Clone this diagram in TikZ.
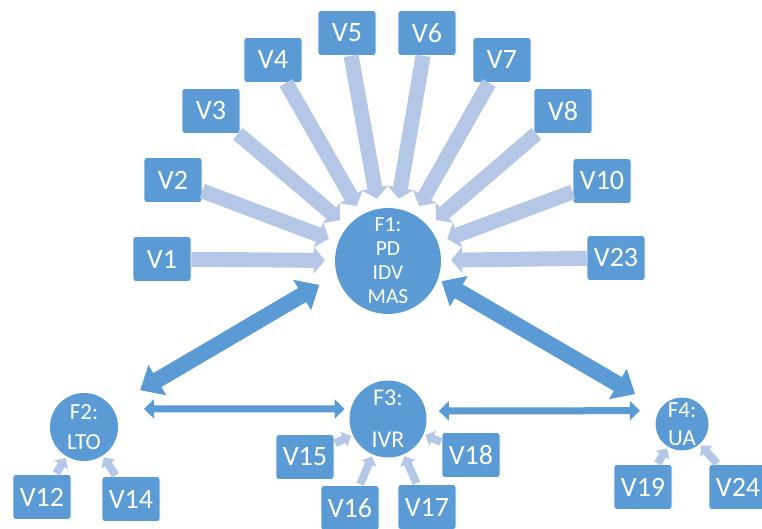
\documentclass[tikz,border=0pt]{standalone}
\usepackage{fontspec}
\setmainfont{Carlito}
\usetikzlibrary{arrows.meta}
\definecolor{boxblue}{HTML}{5B9BD5}
\definecolor{paleblue}{HTML}{B4C7E7}
\tikzset{
  vbox/.style={rectangle, rounded corners=3pt, fill=boxblue, draw=white, line width=0.6pt,
    minimum width=58pt, minimum height=45pt, inner sep=0pt, text=white,
    font=\fontsize{28}{30}\selectfont},
  fcircle/.style={circle, fill=boxblue, inner sep=0pt, text=white, align=center},
  feed/.style={paleblue, line width=15pt,
    -{Triangle[length=11pt,width=26pt]}, shorten >=10pt},
  smallfeed/.style={paleblue, line width=8pt,
    -{Triangle[length=8pt,width=16pt]}, shorten >=2pt, shorten <=1pt},
  bigrel/.style={boxblue, line width=16pt,
    {Triangle[length=20pt,width=34pt]}-{Triangle[length=20pt,width=34pt]}},
  thinrel/.style={boxblue, line width=7pt,
    {Triangle[length=10pt,width=19pt]}-{Triangle[length=10pt,width=19pt]}}
}
\begin{document}
\begin{tikzpicture}[x=1pt, y=-1pt]
\useasboundingbox (0,0) rectangle (762,529);
\clip (0,0) rectangle (762,529);

% factor circles
\node[fcircle, minimum size=106pt, font=\fontsize{21.5}{24}\selectfont] (F1) at (388,261) {F1:\\PD\\IDV\\MAS};
\node[fcircle, minimum size=68pt, font=\fontsize{23}{30}\selectfont] (F2) at (84,427) {F2:\\LTO};
\node[fcircle, minimum size=77pt, font=\fontsize{24}{42}\selectfont] (F3) at (388,419) {F3:\\IVR};
\node[fcircle, minimum size=53pt, font=\fontsize{23}{28}\selectfont] (F4) at (682,424) {F4:\\UA};

% variable boxes feeding F1
\node[vbox] (V1) at (162,259) {V1};
\node[vbox] (V2) at (173,180) {V2};
\node[vbox] (V3) at (211,111) {V3};
\node[vbox] (V4) at (273,60) {V4};
\node[vbox] (V5) at (347,33) {V5};
\node[vbox] (V6) at (427,33) {V6};
\node[vbox] (V7) at (502,60) {V7};
\node[vbox] (V8) at (563,111) {V8};
\node[vbox] (V10) at (602,181) {V10};
\node[vbox] (V23) at (616,258) {V23};

% variable boxes of the lower factors
\node[vbox] (V12) at (42,497) {V12};
\node[vbox] (V14) at (131,499) {V14};
\node[vbox] (V15) at (305,457) {V15};
\node[vbox] (V16) at (350,508) {V16};
\node[vbox] (V17) at (427,507) {V17};
\node[vbox] (V18) at (471,455) {V18};
\node[vbox] (V19) at (643,487) {V19};
\node[vbox] (V24) at (738,487) {V24};

% feeds into F1
\foreach \v in {V1,V2,V3,V4,V5,V6,V7,V8,V10,V23}
  \draw[feed] (\v) -- (F1);

% feeds into the lower factors
\draw[smallfeed] (V12) -- (F2);
\draw[smallfeed] (V14) -- (F2);
\draw[smallfeed] (V15) -- (F3);
\draw[smallfeed] (V16) -- (F3);
\draw[smallfeed] (V17) -- (F3);
\draw[smallfeed] (V18) -- (F3);
\draw[smallfeed] (V19) -- (F4);
\draw[smallfeed] (V24) -- (F4);

% relations between factors
\draw[bigrel, shorten <=33pt, shorten >=20pt] (F2.36) -- (F1.195);
\draw[bigrel, shorten <=4pt, shorten >=29pt] (F1.340) -- (F4.145);
\draw[thinrel, shorten <=31pt, shorten >=6pt] (F2.32) -- (F3.165);
\draw[thinrel, shorten <=13pt, shorten >=19pt] (F3.12) -- (F4.150);
\end{tikzpicture}
\end{document}
